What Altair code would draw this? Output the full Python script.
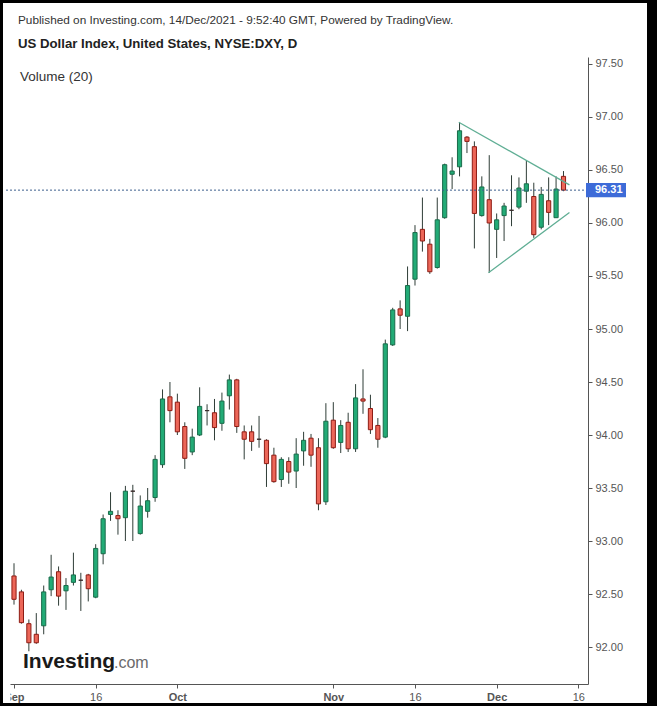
import altair as alt
import pandas as pd

# ---- data ----
opens = [92.67, 92.52, 92.22, 92.12, 92.20, 92.54, 92.71, 92.53, 92.61, 92.63,
         92.68, 92.47, 92.88, 93.25, 93.24, 93.22, 93.47, 93.07, 93.28, 93.41,
         93.72, 94.36, 94.31, 94.08, 93.84, 94.00, 94.23, 94.21, 94.11, 94.37,
         94.52, 94.03, 94.03, 93.96, 93.95, 93.81, 93.58, 93.75, 93.66, 93.85,
         93.97, 93.88, 93.37, 94.14, 93.93, 94.12, 93.87, 94.34, 94.25, 94.09,
         93.98, 94.85, 95.19, 95.12, 95.47, 95.94, 95.80, 95.58, 96.05, 96.46,
         96.53, 96.81, 96.72, 96.07, 96.22, 95.94, 96.07, 96.12, 96.15, 96.30,
         96.25, 95.96, 96.21, 96.05, 96.44]
highs = [92.79, 92.54, 92.26, 92.32, 92.58, 92.87, 92.76, 92.65, 92.89, 92.70,
         92.69, 92.97, 93.25, 93.46, 93.29, 93.52, 93.53, 93.43, 93.50, 93.81,
         94.43, 94.50, 94.39, 94.12, 94.06, 94.45, 94.29, 94.34, 94.40, 94.57,
         94.53, 94.09, 94.09, 94.18, 93.96, 93.88, 93.79, 93.79, 93.97, 94.03,
         94.01, 93.97, 94.30, 94.31, 94.14, 94.21, 94.48, 94.62, 94.38, 94.16,
         94.90, 95.20, 95.27, 95.59, 95.98, 96.24, 95.85, 96.24, 96.56, 96.62,
         96.95, 96.82, 96.77, 96.44, 96.64, 96.09, 96.19, 96.45, 96.43, 96.59,
         96.38, 96.34, 96.43, 96.44, 96.49]
lows = [92.40, 92.22, 91.96, 92.03, 92.12, 92.48, 92.39, 92.35, 92.58, 92.34,
        92.43, 92.46, 92.78, 93.19, 93.06, 93.00, 93.00, 93.06, 93.22, 93.37,
        93.69, 94.12, 94.00, 93.68, 93.81, 93.99, 94.09, 93.95, 94.04, 94.24,
        94.02, 93.77, 93.85, 93.88, 93.51, 93.55, 93.51, 93.54, 93.50, 93.71,
        93.70, 93.29, 93.34, 93.87, 93.83, 93.84, 93.84, 94.20, 94.01, 93.88,
        93.97, 94.84, 95.00, 94.98, 95.41, 95.73, 95.52, 95.57, 96.04, 96.32,
        96.44, 96.66, 95.76, 96.06, 95.53, 95.67, 95.83, 95.97, 96.13, 96.19,
        95.86, 95.94, 95.98, 96.05, 96.30]
closes = [92.45, 92.23, 92.04, 92.04, 92.52, 92.66, 92.48, 92.58, 92.68, 92.63,
          92.55, 92.93, 93.21, 93.28, 93.21, 93.47, 93.47, 93.33, 93.38, 93.77,
          94.34, 94.23, 94.03, 93.78, 93.98, 94.27, 94.23, 94.07, 94.32, 94.52,
          94.08, 93.96, 93.94, 93.96, 93.73, 93.56, 93.77, 93.65, 93.82, 93.95,
          93.81, 93.35, 94.13, 93.88, 94.09, 93.87, 94.35, 94.32, 94.05, 93.96,
          94.86, 95.18, 95.13, 95.41, 95.91, 95.83, 95.54, 96.03, 96.55, 96.49,
          96.87, 96.77, 96.09, 96.34, 96.00, 96.03, 96.16, 96.12, 96.33, 96.37,
          95.89, 96.27, 96.10, 96.32, 96.31]

tick_idx = [0, 11, 22, 43, 54, 65, 76]
tick_lab = ["Sep", "16", "Oct", "Nov", "16", "Dec", "16"]
month_lab = ["Sep", "Oct", "Nov", "Dec"]
y_ticks = [92.0, 92.5, 93.0, 93.5, 94.0, 94.5, 95.0, 95.5, 96.0, 96.5, 97.0, 97.5]

tri_seg = ["upper", "upper", "lower", "lower"]
tri_x = [59.9, 74.8, 63.9, 74.8]
tri_y = [96.95, 96.36, 95.53, 96.10]

last_price = closes[-1]

# ---- layout ----
W, H = 578, 627
PAD_L, PAD_T = 10, 57
X_DOM = [-0.54, 77.3]
Y_DOM = [91.651, 97.566]
FONT = "Liberation Sans"

UP_FILL, UP_LINE = "#22ab76", "#1a6b4a"
DN_FILL, DN_LINE = "#ec6658", "#8e1c14"
FLAT = "#3a2c2c"
WICK = "#2f3d37"

df = pd.DataFrame({"i": list(range(len(opens))), "o": opens, "h": highs, "l": lows, "c": closes})
df["dir"] = ["up" if c > o else ("down" if c < o else "flat") for o, c in zip(opens, closes)]
tri = pd.DataFrame({"seg": tri_seg, "x": tri_x, "y": tri_y})
one = pd.DataFrame({"k": [0]})

xs = alt.Scale(domain=X_DOM, nice=False, zero=False)
ys = alt.Scale(domain=Y_DOM, nice=False, zero=False)

lab_expr = " : ".join(f"datum.value == {v} ? '{t}'" for v, t in zip(tick_idx, tick_lab)) + " : ''"
month_test = " || ".join(f"datum.value == {v}" for v, t in zip(tick_idx, tick_lab) if t in month_lab)

x_axis = alt.Axis(values=tick_idx, labelExpr=lab_expr, title=None, grid=False,
                  domainColor="#555555", tickColor="#555555", tickSize=4,
                  labelColor="#555555", labelFontSize=11, labelFont=FONT, labelPadding=3,
                  labelFontWeight={"condition": {"test": month_test, "value": "bold"}, "value": "normal"},
                  labelFlush=False, labelOverlap=False)
y_axis = alt.Axis(orient="right", values=y_ticks, format=".2f", title=None, grid=False,
                  domainColor="#555555", tickColor="#555555", tickSize=4,
                  labelColor="#555555", labelFontSize=11, labelFont=FONT, labelPadding=3)

dir_scale_fill = alt.Scale(domain=["up", "down", "flat"], range=[UP_FILL, DN_FILL, FLAT])
dir_scale_line = alt.Scale(domain=["up", "down", "flat"], range=[UP_LINE, DN_LINE, FLAT])


def frame(x0, x1, y0, y1, color="black"):
    return alt.Chart(one).mark_rect(color=color).encode(
        x=alt.value(x0), x2=alt.value(x1), y=alt.value(y0), y2=alt.value(y1))


# black screenshot frame (pixel offsets relative to the plot origin)
fr_left = frame(-PAD_L, -PAD_L + 3, -PAD_T, 706 - PAD_T)
fr_top = frame(-PAD_L, 657 - PAD_L, -PAD_T, -PAD_T + 3)
fr_right = frame(647 - PAD_L, 657 - PAD_L, -PAD_T, 706 - PAD_T)
fr_bottom = frame(-PAD_L, 657 - PAD_L, 703 - PAD_T, 706 - PAD_T)
# the pane clips the first month label on its left
clip_sep = frame(-PAD_L + 3, 0.5, H + 2, H + 18, color="white")

wicks = alt.Chart(df).mark_rule(color=WICK, strokeWidth=1).encode(
    x=alt.X("i:Q", scale=xs, axis=x_axis),
    y=alt.Y("l:Q", scale=ys, axis=y_axis),
    y2="h:Q")

bodies = alt.Chart(df).transform_calculate(
    x0="datum.i - 0.28", x1="datum.i + 0.28"
).mark_rect(strokeWidth=1).encode(
    x=alt.X("x0:Q", scale=xs, axis=x_axis), x2="x1:Q",
    y=alt.Y("o:Q", scale=ys, axis=y_axis), y2="c:Q",
    fill=alt.Fill("dir:N", scale=dir_scale_fill, legend=None),
    stroke=alt.Stroke("dir:N", scale=dir_scale_line, legend=None))

tri_lines = alt.Chart(tri).mark_line(color="#5fae94", strokeWidth=1.3).encode(
    x=alt.X("x:Q", scale=xs, axis=x_axis),
    y=alt.Y("y:Q", scale=ys, axis=y_axis),
    detail="seg:N")

price_rule = alt.Chart(one).mark_rule(color="#3d5f8c", strokeWidth=1, strokeDash=[2, 2]).encode(
    x=alt.value(-4), x2=alt.value(W), y=alt.YDatum(last_price, scale=ys, axis=y_axis))

price_box = alt.Chart(one).mark_rect(color="#3d6bd8").encode(
    x=alt.value(W - 2), x2=alt.value(W + 38),
    y=alt.YDatum(last_price + 0.068, scale=ys, axis=y_axis), y2=alt.datum(last_price - 0.068))

price_txt = alt.Chart(one).mark_text(color="white", fontWeight="bold", fontSize=11, font=FONT,
                                     align="left", baseline="middle").encode(
    x=alt.value(W + 7), y=alt.YDatum(last_price, scale=ys, axis=y_axis),
    text=alt.value(f"{last_price:.2f}"))


def label(txt, x, y, size=13, weight="normal", color="#333333"):
    return alt.Chart(one).mark_text(align="left", baseline="alphabetic", fontSize=size,
                                    fontWeight=weight, color=color, font=FONT).encode(
        x=alt.value(x), y=alt.value(y), text=alt.value(txt))


t1 = label("Published on Investing.com, 14/Dec/2021 - 9:52:40 GMT, Powered by TradingView.", 8, -33, size=11.8)
t2 = label("US Dollar Index, United States, NYSE:DXY, D", 8, -9, size=13.2, weight="bold", color="#222222")
t3 = label("Volume (20)", 10, 24, size=13.5, color="#333333")
logo1 = label("Investing", 13, 611, size=21, weight="bold", color="#1a1a1a")
logo2 = label(".com", 104, 611, size=16, color="#6a6a6a")

chart = alt.layer(wicks, bodies, tri_lines, price_rule, price_box, price_txt,
                  t1, t2, t3, logo1, logo2, clip_sep,
                  fr_left, fr_top, fr_right, fr_bottom).properties(
    width=W, height=H,
    autosize=alt.AutoSizeParams(type="none"),
    padding={"left": PAD_L, "top": PAD_T, "right": 657 - PAD_L - W, "bottom": 706 - PAD_T - H},
    background="white",
).configure_view(strokeWidth=0)

chart.save("out.html", embed_options={"renderer": "svg", "actions": False})
